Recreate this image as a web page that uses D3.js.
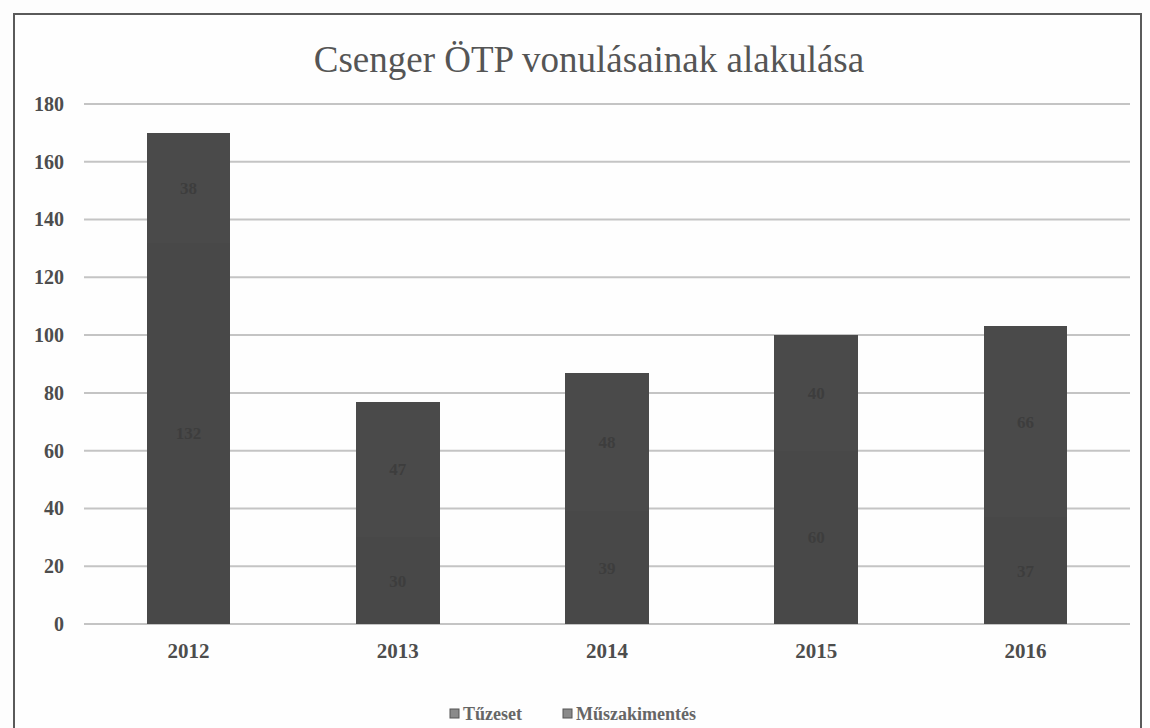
<!DOCTYPE html>
<html>
<head>
<meta charset="utf-8">
<script src="https://cdn.jsdelivr.net/npm/d3@7"></script>
<style>
  body { margin: 0; background: #fdfdfd; }
  svg { display: block; }
  .tick text { font-family: "Liberation Serif", "DejaVu Serif", serif; font-weight: bold; fill: #4d4d4d; }
</style>
</head>
<body>
<div id="chart"></div>
<script>
// data
var years = ['2012', '2013', '2014', '2015', '2016'];
var tuzeset = [132, 30, 39, 60, 37];
var muszaki = [38, 47, 48, 40, 66];
var seriesNames = ['Tűzeset', 'Műszakimentés'];
var yTicks = [0, 20, 40, 60, 80, 100, 120, 140, 160, 180];

var svgWidth = 1150;
var svgHeight = 728;
var margin = { top: 104, right: 20, bottom: 104, left: 84 };
var width = 1130 - margin.left;
var height = 624 - margin.top;

var svg = d3.select('#chart')
    .append('svg')
    .attr('width', svgWidth)
    .attr('height', svgHeight);

// frame
svg.append('rect')
    .attr('x', 14).attr('y', 14)
    .attr('width', 1127).attr('height', 740)
    .attr('fill', '#fefefe')
    .attr('stroke', '#5a5a5a')
    .attr('stroke-width', 2);

svg.append('text')
    .attr('x', 589)
    .attr('y', 72)
    .attr('text-anchor', 'middle')
    .style('font-family', '"Liberation Serif", "DejaVu Serif", serif')
    .style('font-size', '37px')
    .attr('fill', '#555')
    .text('Csenger ÖTP vonulásainak alakulása');

var chartGroup = svg.append('g')
    .attr('transform', `translate(${margin.left},${margin.top})`);

var x = d3.scaleBand()
    .domain(years)
    .range([0, width])
    .paddingInner(0.6)
    .paddingOuter(0.3);

var y = d3.scaleLinear()
    .domain([0, 180])
    .range([height, 0]);

// gridlines
chartGroup.append('g')
    .selectAll('line')
    .data(yTicks)
    .enter()
    .append('line')
    .attr('x1', 0).attr('x2', width)
    .attr('y1', d => y(d)).attr('y2', d => y(d))
    .attr('stroke', '#c4c4c4')
    .attr('stroke-width', 2);

var leftAxis = d3.axisLeft(y).tickValues(yTicks).tickSize(0).tickPadding(20);
var yAxis = chartGroup.append('g').call(leftAxis);
yAxis.select('.domain').remove();
yAxis.selectAll('text').style('font-size', '20px');

var bottomAxis = d3.axisBottom(x).tickSize(0).tickPadding(19);
var xAxis = chartGroup.append('g')
    .attr('transform', `translate(0, ${height})`)
    .call(bottomAxis);
xAxis.select('.domain').remove();
xAxis.selectAll('text').style('font-size', '21px');

// stacked bars
var table = years.map(function(yr, i) {
    return { year: yr, tuzeset: tuzeset[i], muszaki: muszaki[i] };
});
var stack = d3.stack().keys(['tuzeset', 'muszaki'])(table);
var colors = ['#484848', '#4a4a4a'];

var layers = chartGroup.selectAll('.layer')
    .data(stack)
    .enter()
    .append('g')
    .attr('class', 'layer')
    .attr('fill', (d, i) => colors[i]);

layers.selectAll('rect')
    .data(d => d)
    .enter()
    .append('rect')
    .attr('x', d => x(d.data.year))
    .attr('y', d => y(d[1]))
    .attr('width', x.bandwidth())
    .attr('height', d => y(d[0]) - y(d[1]))
    .attr('shape-rendering', 'crispEdges');

// data labels, barely visible in the scan
layers.selectAll('text')
    .data(d => d)
    .enter()
    .append('text')
    .attr('x', d => x(d.data.year) + x.bandwidth() / 2)
    .attr('y', d => y((d[0] + d[1]) / 2))
    .attr('dy', '0.35em')
    .attr('text-anchor', 'middle')
    .style('font-family', '"Liberation Serif", serif')
    .style('font-weight', 'bold')
    .style('font-size', '17px')
    .attr('fill', '#3d3d3d')
    .text(d => d[1] - d[0]);

// legend
var legend = svg.append('g').attr('transform', 'translate(450, 720)');
var legendX = [0, 113];
seriesNames.forEach(function(name, i) {
    var g = legend.append('g').attr('transform', `translate(${legendX[i]},0)`);
    g.append('rect')
        .attr('x', 0).attr('y', -11)
        .attr('width', 9).attr('height', 9)
        .attr('fill', '#8a8a8a')
        .attr('stroke', '#555');
    g.append('text')
        .attr('x', 13)
        .attr('y', 0)
        .style('font-family', '"Liberation Serif", serif')
        .style('font-weight', 'bold')
        .style('font-size', '18px')
        .attr('fill', '#666')
        .text(name);
});
</script>
</body>
</html>
